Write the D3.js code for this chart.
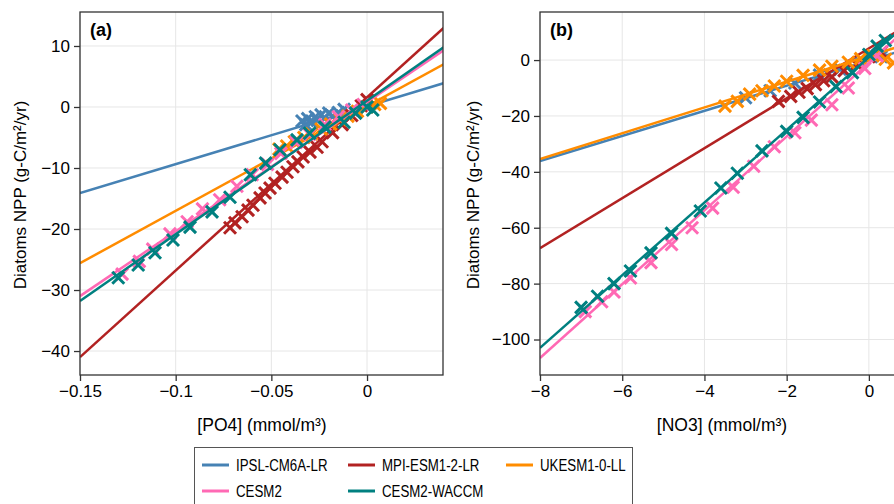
<!DOCTYPE html>
<meta charset="utf-8">
<script src="https://d3js.org/d3.v7.min.js"></script>
<style>
body { margin: 0; background: #fff; }
text { font-family: "Liberation Sans", Arial, sans-serif; fill: #000; }
.grid line { stroke: #e6e6e6; stroke-width: 1; }
</style>
<div id="chart"></div>
<script>
  // Models (legend order = drawing order)
  var models = ["IPSL-CM6A-LR", "MPI-ESM1-2-LR", "UKESM1-0-LL", "CESM2", "CESM2-WACCM"];
  var colors = ["#4682b4", "#b22222", "#ff8c00", "#ff69b4", "#008080"];

  // Panel (a): [PO4] vs diatoms NPP
  var aIpslX = [-0.034, -0.032, -0.031, -0.029, -0.027, -0.026, -0.024, -0.022, -0.020, -0.018, -0.015, -0.012];
  var aIpslY = [-2.3, -2.9, -1.9, -2.5, -1.6, -2.2, -1.3, -1.8, -1.0, -1.5, -0.9, -0.4];
  var aMpiX = [-0.0716, -0.069, -0.0653, -0.0622, -0.0596, -0.0559, -0.0533, -0.0507, -0.0481, -0.0444, -0.0418, -0.0387, -0.0361, -0.0334, -0.0298, -0.0261, -0.0235, -0.018, -0.013, -0.008, -0.003, 0.0];
  var aMpiY = [-19.8, -19.0, -18.0, -16.9, -16.1, -14.9, -14.1, -13.3, -12.5, -11.5, -10.7, -9.8, -9.0, -8.2, -7.4, -6.6, -5.7, -4.2, -2.9, -1.4, 0.2, 1.2];
  var aUkX = [-0.046, -0.042, -0.038, -0.033, -0.029, -0.024, -0.019, -0.014, -0.010, -0.005, 0.000, 0.004, 0.007];
  var aUkY = [-6.9, -6.4, -5.7, -5.0, -4.4, -3.6, -2.8, -2.1, -1.5, -0.7, 0.0, 0.4, 0.6];
  var aCesmX = [-0.128, -0.119, -0.112, -0.103, -0.094, -0.086, -0.077, -0.068, -0.060, -0.052, -0.045, -0.037, -0.030, -0.022, -0.015, -0.008, -0.002];
  var aCesmY = [-27.4, -25.3, -23.3, -20.8, -18.8, -16.7, -15.2, -13.0, -11.1, -9.4, -7.6, -5.8, -4.5, -2.9, -1.6, -0.5, 0.4];
  var aWaccmX = [-0.130, -0.1196, -0.1108, -0.1014, -0.0925, -0.081, -0.0716, -0.061, -0.053, -0.0455, -0.0366, -0.030, -0.022, -0.012, -0.006, 0.0, 0.003];
  var aWaccmY = [-28.0, -25.9, -23.9, -21.8, -19.7, -17.2, -14.8, -11.1, -9.2, -7.0, -5.4, -4.3, -3.3, -2.5, -1.0, 0.0, -0.5];
  // regression lines: values at x = -0.15 and x = 0.04
  var aLineX = [-0.15, 0.04];
  var aLineY = [[-14.1, 3.9], [-41.0, 12.95], [-25.6, 7.0], [-31.0, 9.3], [-31.8, 9.8]];

  // Panel (b): [NO3] vs diatoms NPP
  var bIpslX = [-3.0, -2.4, -1.8, -1.2, -0.7, -0.2, 0.3];
  var bIpslY = [-13.5, -11.0, -8.2, -5.4, -3.3, -1.0, 1.2];
  var bMpiX = [-2.2, -1.9, -1.7, -1.5, -1.3, -1.1, -0.9, -0.6, -0.3, 0.0, 0.3];
  var bMpiY = [-14.8, -13.0, -11.5, -10.2, -8.8, -7.4, -6.0, -3.8, -1.5, 1.2, 2.8];
  var bUkX = [-3.5, -3.2, -2.9, -2.6, -2.3, -2.0, -1.6, -1.2, -0.9, -0.5, -0.2, 0.1, 0.4, 0.6];
  var bUkY = [-16.5, -14.8, -12.2, -11.0, -9.3, -7.6, -5.5, -3.6, -2.2, -0.8, 0.5, 1.6, 0.3, -1.0];
  var bCesmX = [-6.9, -6.5, -6.2, -5.8, -5.3, -4.8, -4.3, -3.8, -3.3, -2.8, -2.3, -1.8, -1.4, -0.9, -0.5, -0.1, 0.2];
  var bCesmY = [-90, -86.5, -83, -78, -72.5, -66, -60, -53, -45.5, -38, -31, -26, -21.5, -16, -10, -3, 1.5];
  var bWaccmX = [-7.0, -6.6, -6.2, -5.8, -5.3, -4.8, -4.1, -3.6, -3.2, -2.6, -2.0, -1.6, -1.2, -0.8, -0.4, 0.0, 0.2, 0.4];
  var bWaccmY = [-88.5, -84.5, -80, -75.5, -69, -62, -54, -45.8, -40.5, -32.5, -25.5, -20.5, -15, -9.5, -4.5, 2, 5, 7];
  // regression lines: values at x = -8 and x = 0.83
  var bLineX = [-8, 0.83];
  var bLineY = [[-36.1, 3.5], [-67.3, 11.6], [-35.4, 5.3], [-106.6, 10.0], [-103.0, 11.8]];

  var aTicksX = [-0.15, -0.1, -0.05, 0];
  var aTicksY = [10, 0, -10, -20, -30, -40];
  var bTicksX = [-8, -6, -4, -2, 0];
  var bTicksY = [0, -20, -40, -60, -80, -100];

  var W = 894, H = 504;
  var svg = d3.select("#chart").append("svg")
              .attr("width", W).attr("height", H);

  var fmt = function (d) { return d < 0 ? "\u2212" + String(-d) : String(d); };
  var marker = "M-6,-6L6,6M-6,6L6,-6";

  // legend type is narrower in the original, squeeze the glyphs a bit
  function squeeze(sel, k) {
    sel.each(function () {
      var w = this.getComputedTextLength();
      this.setAttribute("textLength", (w * k).toFixed(1));
      this.setAttribute("lengthAdjust", "spacingAndGlyphs");
    });
  }

  function panel(opt) {
    var x = d3.scaleLinear().domain(opt.xDomain).range([opt.left, opt.right]);
    var y = d3.scaleLinear().domain(opt.yDomain).range([375, 12]);
    var g = svg.append("g");

    g.append("defs").append("clipPath").attr("id", opt.id)
     .append("rect").attr("x", opt.left).attr("y", 12)
     .attr("width", opt.right - opt.left).attr("height", 363);

    // grid
    var grid = g.append("g").attr("class", "grid");
    grid.selectAll(".gx").data(opt.ticksX).enter().append("line")
        .attr("x1", function (d) { return x(d); }).attr("x2", function (d) { return x(d); })
        .attr("y1", 12).attr("y2", 375);
    grid.selectAll(".gy").data(opt.ticksY).enter().append("line")
        .attr("y1", function (d) { return y(d); }).attr("y2", function (d) { return y(d); })
        .attr("x1", opt.left).attr("x2", opt.right);

    var plot = g.append("g").attr("clip-path", "url(#" + opt.id + ")");
    opt.series.forEach(function (s, i) {
      var pts = s[0].map(function (v, k) { return [v, s[1][k]]; });
      plot.append("g").selectAll("path").data(pts).enter().append("path")
          .attr("d", marker)
          .attr("transform", function (d) { return "translate(" + x(d[0]) + "," + y(d[1]) + ")"; })
          .attr("stroke", colors[i]).attr("stroke-width", 3).attr("fill", "none");
      plot.append("line")
          .attr("x1", x(opt.lineX[0])).attr("x2", x(opt.lineX[1]))
          .attr("y1", y(opt.lineY[i][0])).attr("y2", y(opt.lineY[i][1]))
          .attr("stroke", colors[i]).attr("stroke-width", 2.5);
    });

    // frame
    g.append("rect").attr("x", opt.left).attr("y", 12)
     .attr("width", opt.right - opt.left).attr("height", 363)
     .attr("fill", "none").attr("stroke", "#333").attr("stroke-width", 1.3);

    // axes
    var ax = g.append("g").attr("transform", "translate(0,375)")
              .call(d3.axisBottom(x).tickValues(opt.ticksX).tickFormat(fmt).tickSize(6).tickPadding(4));
    var ay = g.append("g").attr("transform", "translate(" + opt.left + ",0)")
              .call(d3.axisLeft(y).tickValues(opt.ticksY).tickFormat(fmt).tickSize(6).tickPadding(4));
    [ax, ay].forEach(function (a) {
      a.select(".domain").remove();
      a.selectAll(".tick line").attr("stroke", "#333").attr("stroke-width", 1.3);
      a.selectAll("text").attr("font-size", 17).attr("font-family", null);
    });

    g.append("text").attr("x", opt.xLabelX).attr("y", 431).attr("text-anchor", "middle")
     .attr("font-size", 17.5).text(opt.xLabel);
    g.append("text").attr("transform", "translate(" + opt.yLabelX + ",195) rotate(-90)")
     .attr("text-anchor", "middle").attr("font-size", 17).text("Diatoms NPP (g-C/m\u00b2/yr)");
    g.append("text").attr("x", opt.left + 10).attr("y", 36)
     .attr("font-size", 18).attr("font-weight", "bold").text(opt.tag);
  }

  panel({
    id: "clipA", left: 80, right: 443, xDomain: [-0.15, 0.0397], yDomain: [-43.93, 15.57],
    ticksX: aTicksX, ticksY: aTicksY, lineX: aLineX, lineY: aLineY,
    series: [[aIpslX, aIpslY], [aMpiX, aMpiY], [aUkX, aUkY], [aCesmX, aCesmY], [aWaccmX, aWaccmY]],
    xLabel: "[PO4] (mmol/m\u00b3)", xLabelX: 262, yLabelX: 26, tag: "(a)"
  });
  panel({
    id: "clipB", left: 540, right: 903, xDomain: [-8, 0.83], yDomain: [-112.7, 17.2],
    ticksX: bTicksX, ticksY: bTicksY, lineX: bLineX, lineY: bLineY,
    series: [[bIpslX, bIpslY], [bMpiX, bMpiY], [bUkX, bUkY], [bCesmX, bCesmY], [bWaccmX, bWaccmY]],
    xLabel: "[NO3] (mmol/m\u00b3)", xLabelX: 722, yLabelX: 479, tag: "(b)"
  });

  // Legend
  var leg = svg.append("g");
  leg.append("rect").attr("x", 194.5).attr("y", 447.5).attr("width", 438).attr("height", 70)
     .attr("fill", "#fff").attr("stroke", "#555").attr("stroke-width", 1);
  var legPos = [[202, 465], [348, 465], [506, 465], [202, 491], [348, 491]];
  models.forEach(function (m, i) {
    var p = legPos[i];
    leg.append("line").attr("x1", p[0]).attr("x2", p[0] + 27).attr("y1", p[1]).attr("y2", p[1])
       .attr("stroke", colors[i]).attr("stroke-width", 3);
    leg.append("text").attr("x", p[0] + 34).attr("y", p[1] + 6)
       .attr("font-size", 16).text(m).call(squeeze, 0.83);
  });
</script>
